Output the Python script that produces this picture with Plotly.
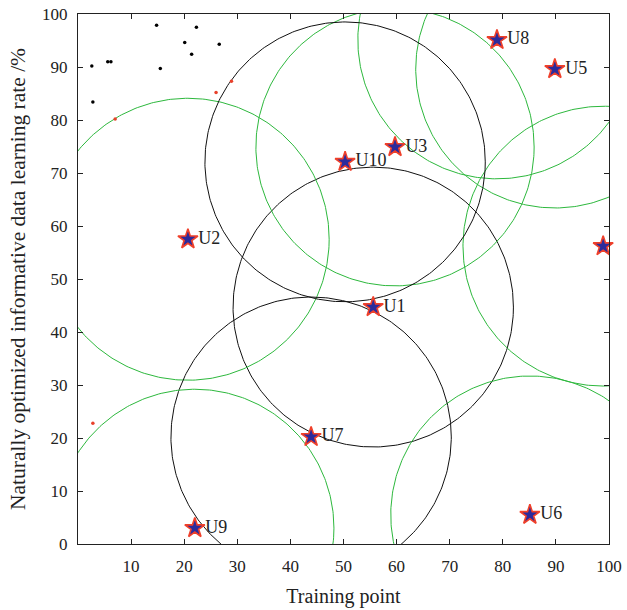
import numpy as np
import plotly.graph_objects as go

# Nodes (star markers); the node at the right edge has no visible label
node_labels = ["U1", "U2", "U3", "", "U5", "U6", "U7", "U8", "U9", "U10"]
node_x = [55.6, 20.7, 59.7, 98.9, 89.8, 85.1, 43.9, 78.9, 22.0, 50.3]
node_y = [44.7, 57.5, 74.9, 56.2, 89.6, 5.5, 20.2, 95.1, 3.0, 72.1]

# Coverage radius around each node and circle colour group
radius = [26.4, 26.6, 26.2, 26.4, 26.2, 26.2, 26.4, 26.2, 26.2, 26.4]
circle_group = ["black", "green", "green", "green", "green", "green", "black", "green", "green", "black"]

# Scattered training points
black_pts_x = [14.8, 22.3, 20.1, 26.6, 21.4, 2.6, 5.6, 6.2, 15.5, 2.8]
black_pts_y = [97.9, 97.5, 94.6, 94.3, 92.4, 90.2, 91.0, 91.0, 89.7, 83.4]
red_pts_x = [28.9, 26.0, 7.0, 2.8]
red_pts_y = [87.3, 85.2, 80.2, 22.8]

x_ticks = [10, 20, 30, 40, 50, 60, 70, 80, 90, 100]
y_ticks = [0, 10, 20, 30, 40, 50, 60, 70, 80, 90, 100]

colors = {"black": "#111111", "green": "#2db83d"}
FONT = "Liberation Serif"
STAR = 15

fig = go.Figure()

theta = np.linspace(0, 2 * np.pi, 361)
for cx, cy, r, g in zip(node_x, node_y, radius, circle_group):
    fig.add_trace(go.Scatter(
        x=cx + r * np.cos(theta), y=cy + r * np.sin(theta),
        mode="lines", line=dict(color=colors[g], width=1.0),
        hoverinfo="skip", showlegend=False))

fig.add_trace(go.Scatter(x=black_pts_x, y=black_pts_y, mode="markers",
                         marker=dict(color="black", size=3.5), showlegend=False))
fig.add_trace(go.Scatter(x=red_pts_x, y=red_pts_y, mode="markers",
                         marker=dict(color="#e8402a", size=3.5), showlegend=False))

fig.add_trace(go.Scatter(
    x=node_x, y=node_y, mode="markers",
    marker=dict(symbol="star", size=STAR, color="#2b2b9c",
                line=dict(color="#f0402a", width=1.6)),
    cliponaxis=False, showlegend=False))
fig.add_trace(go.Scatter(
    x=node_x, y=node_y, mode="markers+text", text=node_labels,
    textposition="middle right",
    marker=dict(symbol="star", size=STAR, color="rgba(0,0,0,0)"),
    textfont=dict(family=FONT, size=18, color="#222222"),
    cliponaxis=True, showlegend=False))

axis_common = dict(
    showgrid=False, zeroline=False, showline=True, linecolor="#222222",
    linewidth=1.2, mirror="ticks", ticks="inside", ticklen=5,
    tickcolor="#222222", ticklabelstandoff=6, automargin=False,
    tickfont=dict(family=FONT, size=17, color="#222222"))

fig.update_xaxes(range=[0, 100], tickvals=x_ticks,
                 title=dict(text="Training point", font=dict(family=FONT, size=20, color="#222222"), standoff=14),
                 **axis_common)
fig.update_yaxes(range=[0, 100], tickvals=y_ticks,
                 title=dict(text="Naturally optimized informative data learning rate /%",
                            font=dict(family=FONT, size=21.5, color="#222222"), standoff=10),
                 **axis_common)

fig.update_layout(
    width=627, height=610,
    margin=dict(l=78, r=18, t=14, b=66),
    paper_bgcolor="white", plot_bgcolor="white")

fig.write_html("out.html")
